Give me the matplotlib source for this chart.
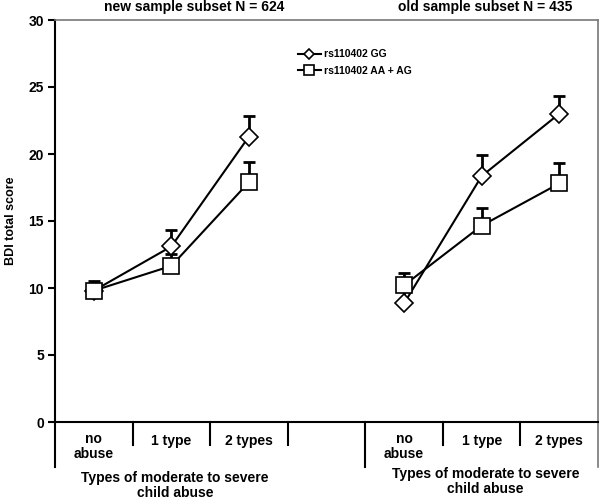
import numpy as np
import matplotlib
matplotlib.use("Agg")
import matplotlib.pyplot as plt

plt.rcParams['font.family'] = ['Liberation Sans', 'DejaVu Sans']
plt.rcParams['font.weight'] = 'bold'

categories = ["no\nabuse", "1 type", "2 types"]
group_titles = ["new sample subset N = 624", "old sample subset N = 435"]
x_label = "Types of moderate to severe\nchild abuse"

# new sample subset
new_gg = [9.8, 13.1, 21.3]
new_gg_err = [0.7, 1.2, 1.55]
new_aa = [9.8, 11.65, 17.9]
new_aa_err = [0.5, 0.9, 1.5]

# old sample subset
old_gg = [8.85, 18.35, 23.0]
old_gg_err = [0.9, 1.55, 1.35]
old_aa = [10.2, 14.65, 17.8]
old_aa_err = [0.9, 1.35, 1.5]

yticks = [0, 5, 10, 15, 20, 25, 30]

fig = plt.figure(figsize=(6.0, 4.99), dpi=100)
ax = fig.add_axes([55/600, 77/499, 543/600, 402/499])

x_new = np.arange(3) + 0.5
x_old = np.arange(3) + 4.5

def draw(xs, vals, errs, marker, ms, label=None):
    ax.errorbar(xs, vals, yerr=[np.zeros(len(errs)), errs], fmt='none',
                ecolor='black', elinewidth=2, capsize=4, capthick=2, zorder=2)
    ax.plot(xs, vals, color='black', lw=1.5, marker=marker, ms=ms,
            mfc='white', mec='black', mew=1.2, zorder=3, label=label)

draw(x_new, new_gg, new_gg_err, 'D', 9, 'rs110402 GG')
draw(x_new, new_aa, new_aa_err, 's', 11, 'rs110402 AA + AG')
draw(x_old, old_gg, old_gg_err, 'D', 9)
draw(x_old, old_aa, old_aa_err, 's', 11)

ax.set_xlim(0, 7)
ax.set_ylim(0, 30)
ax.set_yticks(yticks)
ax.set_yticklabels([str(t) for t in yticks], fontsize=10, fontweight='bold')
ax.tick_params(axis='y', direction='out', length=5, width=1.5, pad=3)
ax.set_xticks([])
ax.set_ylabel("BDI total score", fontsize=9, fontweight='bold')
ax.yaxis.set_label_coords(-38/543, 0.5)

for s in ['left', 'bottom']:
    ax.spines[s].set_linewidth(1.5)
ax.spines['top'].set_color('#777777')
ax.spines['right'].set_color('#777777')
ax.spines['top'].set_linewidth(1.2)
ax.spines['right'].set_linewidth(1.2)

# category table below the axis
trans = ax.get_xaxis_transform()
for b in [1, 2, 3, 5, 6]:
    ax.plot([b, b], [0, -0.057], color='black', lw=1.5, transform=trans, clip_on=False)
for b in [0, 4]:
    ax.plot([b, b], [0, -0.112], color='black', lw=1.5, transform=trans, clip_on=False)
ax.plot([7, 7], [0, -0.112], color='#777777', lw=1.2, transform=trans, clip_on=False)

for xs, yl in [(x_new, -0.158), (x_old, -0.148)]:
    for xc, c in zip(xs, categories):
        if "\n" in c:
            ax.text(xc, -0.06, c, transform=trans, ha='center', va='center',
                    fontsize=10, fontweight='bold', linespacing=1.1)
        else:
            ax.text(xc, -0.047, c, transform=trans, ha='center', va='center',
                    fontsize=10, fontweight='bold')
    ax.text(xs[1] + 0.05, yl, x_label, transform=trans, ha='center', va='center',
            fontsize=10, fontweight='bold', linespacing=1.1)

ax.text(1.8, 1.032, group_titles[0], transform=trans, ha='center', va='center',
        fontsize=10, fontweight='bold')
ax.text(5.55, 1.032, group_titles[1], transform=trans, ha='center', va='center',
        fontsize=10, fontweight='bold')

leg = ax.legend(loc='upper left', bbox_to_anchor=(0.43, 0.95), frameon=False,
                prop={'size': 7.5, 'weight': 'bold'}, handlelength=2.2,
                handletextpad=0.3, labelspacing=0.6, markerscale=0.6)

fig.savefig("out.png", dpi=100)
